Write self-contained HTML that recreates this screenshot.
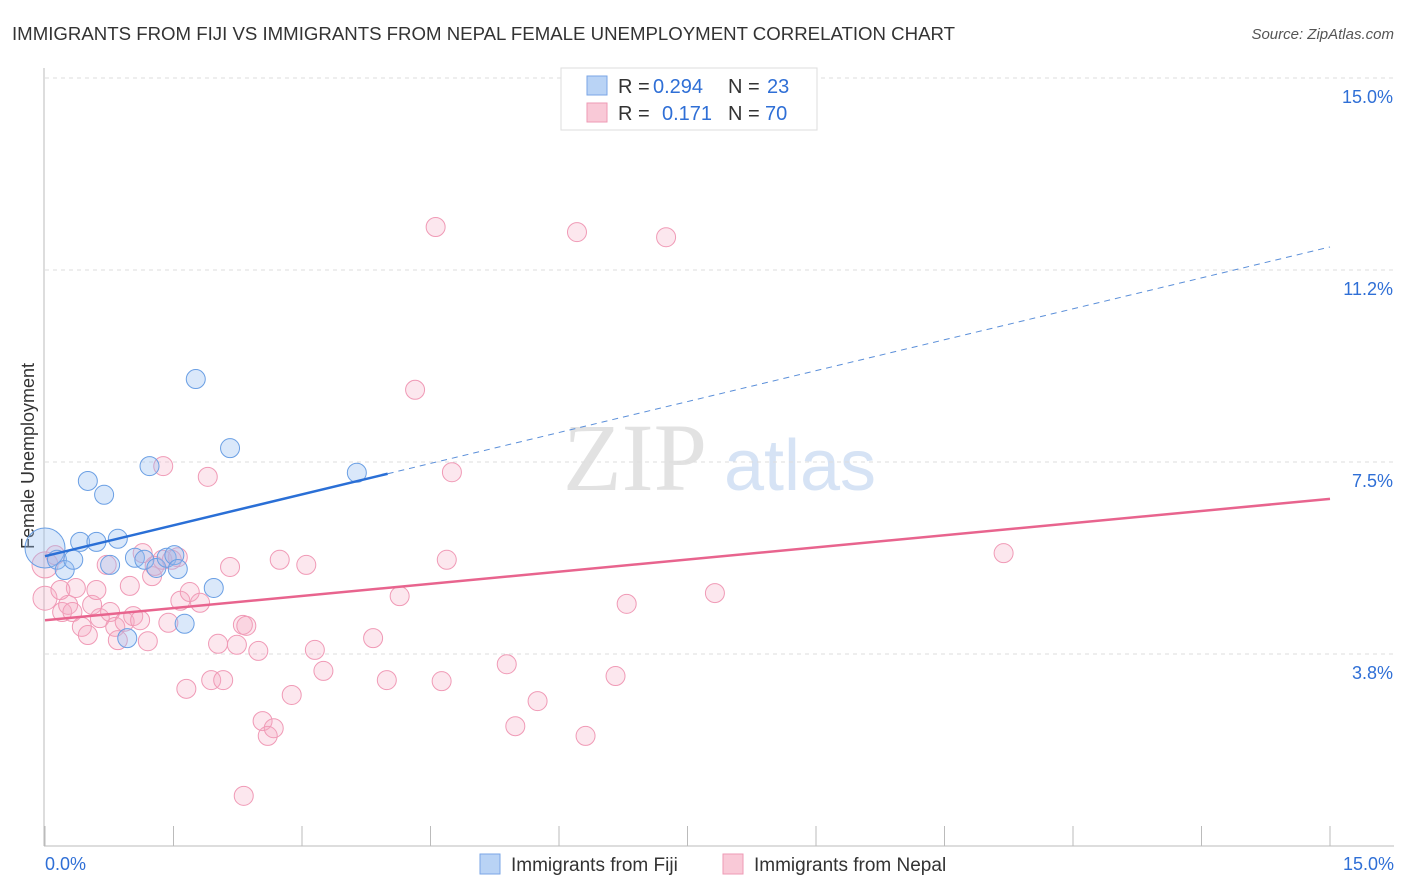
<!DOCTYPE html>
<html><head><meta charset="utf-8"><style>
body{margin:0;background:#fff;font-family:"Liberation Sans",sans-serif;}
svg{display:block}
</style></head><body>
<svg id="chart" width="1406" height="892">
<text x="12" y="40" font-size="18" fill="#333" textLength="943" lengthAdjust="spacingAndGlyphs">IMMIGRANTS FROM FIJI VS IMMIGRANTS FROM NEPAL FEMALE UNEMPLOYMENT CORRELATION CHART</text>
<text x="1394" y="39" font-size="15" fill="#555" font-style="italic" text-anchor="end">Source: ZipAtlas.com</text>
<text x="34" y="456" font-size="18" fill="#333" text-anchor="middle" transform="rotate(-90 34 456)">Female Unemployment</text>
<text x="635" y="490" font-size="96" fill="#e2e2e2" font-family="Liberation Serif,serif" text-anchor="middle">ZIP</text>
<text x="800" y="490" font-size="72" fill="#d6e3f5" text-anchor="middle">atlas</text>
<g id="grid"></g><g id="pts"></g><g id="lines"></g>
<g>
<rect x="561" y="68" width="256" height="62" fill="#fff" stroke="#ddd"/>
<rect x="587" y="76" width="20" height="19" fill="#b9d3f5" stroke="#7aa6e6"/>
<rect x="587" y="103" width="20" height="19" fill="#f9c9d7" stroke="#ee9ab4"/>
<text x="618" y="93" font-size="20" fill="#333">R =</text>
<text x="653" y="93" font-size="20" fill="#2f6fd6">0.294</text>
<text x="728" y="93" font-size="20" fill="#333">N =</text>
<text x="767" y="93" font-size="20" fill="#2f6fd6">23</text>
<text x="618" y="120" font-size="20" fill="#333">R =</text>
<text x="662" y="120" font-size="20" fill="#2f6fd6">0.171</text>
<text x="728" y="120" font-size="20" fill="#333">N =</text>
<text x="765" y="120" font-size="20" fill="#2f6fd6">70</text>
</g>
<g>
<rect x="480" y="854" width="20" height="20" fill="#b9d3f5" stroke="#7aa6e6"/>
<text x="511" y="871" font-size="19" fill="#333">Immigrants from Fiji</text>
<rect x="723" y="854" width="20" height="20" fill="#f9c9d7" stroke="#ee9ab4"/>
<text x="754" y="871" font-size="19" fill="#333">Immigrants from Nepal</text>
</g>
<text x="45" y="870" font-size="18" fill="#2f6fd6">0.0%</text>
<text x="1394" y="870" font-size="18" fill="#2f6fd6" text-anchor="end">15.0%</text>
</svg>
<script>
const yTicks=[3.75,7.5,11.25,15];
const yTickLabels=["3.8%","7.5%","11.2%","15.0%"];
const xTicks=[0,1.5,3,4.5,6,7.5,9,10.5,12,13.5,15];
const fijiX=[0,0.14,0.23,0.33,0.41,0.50,0.60,0.69,0.76,0.85,0.96,1.05,1.16,1.22,1.30,1.42,1.51,1.55,1.63,1.76,1.97,2.16,3.64];
const fijiY=[5.82,5.59,5.39,5.59,5.94,7.13,5.94,6.86,5.49,6.00,4.06,5.63,5.59,7.42,5.43,5.63,5.68,5.41,4.34,9.12,5.04,7.77,7.29];
const nepalX=[0,0,0.12,0.20,0.27,0.32,0.36,0.43,0.50,0.55,0.60,0.64,0.72,0.76,0.82,0.85,0.93,0.99,1.03,1.14,1.20,1.25,1.28,1.37,1.44,1.55,1.58,1.65,1.69,1.81,1.90,1.94,2.02,2.08,2.16,2.24,2.31,2.35,2.49,2.54,2.60,2.67,2.74,2.88,3.05,3.15,3.25,3.83,3.99,4.14,4.32,4.56,4.63,4.69,4.75,5.39,5.49,5.75,6.21,6.31,6.66,6.79,7.25,7.82,11.19,2.32,1.11,0.18,1.48,1.38];
const nepalY=[5.49,4.84,5.68,4.57,4.71,4.57,5.04,4.28,4.12,4.71,5.00,4.45,5.49,4.57,4.28,4.02,4.38,5.08,4.49,5.72,4.00,5.27,5.47,5.59,4.36,5.64,4.79,3.07,4.96,4.75,7.21,3.24,3.95,3.24,5.45,3.93,4.32,4.30,3.81,2.44,2.15,2.30,5.59,2.95,5.49,3.83,3.42,4.06,3.24,4.88,8.91,12.09,3.22,5.59,7.30,3.55,2.34,2.83,11.99,2.15,3.32,4.73,11.89,4.94,5.72,0.98,4.41,5.00,5.59,7.42];
const fijiTrend=[5.66,11.70];
const nepalTrend=[4.41,6.78];
const NS="http://www.w3.org/2000/svg";
const X=v=>45+v/15*1285, Y=v=>846-v/15*768;
function mk(tag,attrs,parent){const e=document.createElementNS(NS,tag);for(const k in attrs)e.setAttribute(k,attrs[k]);parent.appendChild(e);return e;}
const grid=document.getElementById('grid'),pts=document.getElementById('pts'),lines=document.getElementById('lines');
yTicks.forEach((t,i)=>{
 const g=mk('line',{x1:45,x2:1394,y1:Y(t),y2:Y(t),stroke:'#ddd','stroke-dasharray':'4,4'},grid);
 
 
 const l=mk('text',{x:1393,y:Y(t)+25,'font-size':18,fill:'#2f6fd6','text-anchor':'end'},grid);
 l.textContent=yTickLabels[i];
 
 
});
const ax=mk('line',{x1:44,x2:44,y1:68,y2:846,stroke:'#bbb'},grid);


const bx=mk('line',{x1:44,x2:1394,y1:846,y2:846,stroke:'#bbb'},grid);


xTicks.forEach(t=>{
 const k=mk('line',{x1:X(t),x2:X(t),y1:826,y2:846,stroke:'#bbb'},grid);
 
 
});
nepalX.forEach((x,i)=>{
 const r=(x===0)?(i===0?13:12):9.5;
 const c=mk('circle',{cx:X(x),cy:Y(nepalY[i]),r:r,fill:'rgba(246,170,195,0.28)',stroke:'#f09ab6','stroke-width':1},pts);
 
 
});
fijiX.forEach((x,i)=>{
 const r=(i===0)?20:9.5;
 const c=mk('circle',{cx:X(x),cy:Y(fijiY[i]),r:r,fill:'rgba(150,190,240,0.35)',stroke:'#6a9fe4','stroke-width':1},pts);
 
 
});
const fy=x=>fijiTrend[0]+(fijiTrend[1]-fijiTrend[0])*x/15;
const fs=mk('line',{x1:X(0),y1:Y(fy(0)),x2:X(4),y2:Y(fy(4)),stroke:'#2a6fd6','stroke-width':2.5},lines);


const fd=mk('line',{x1:X(4),y1:Y(fy(4)),x2:X(15),y2:Y(fy(15)),stroke:'#5b8fd9','stroke-width':1,'stroke-dasharray':'6,5'},lines);


const nl=mk('line',{x1:X(0),y1:Y(nepalTrend[0]),x2:X(15),y2:Y(nepalTrend[1]),stroke:'#e8648e','stroke-width':2.5},lines);


</script>
</body></html>
